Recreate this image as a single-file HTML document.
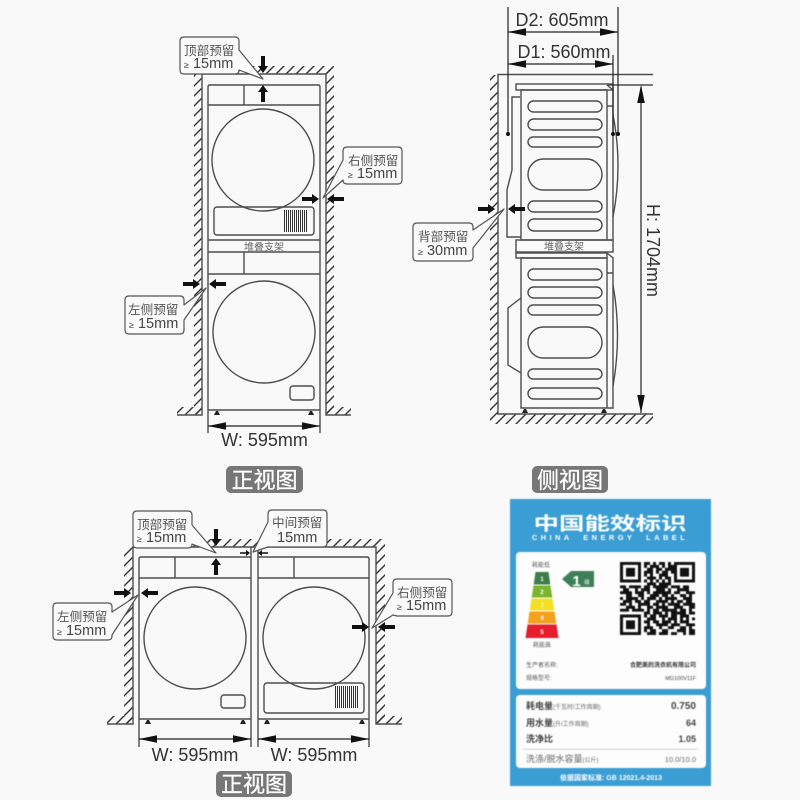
<!DOCTYPE html>
<html lang="zh">
<head>
<meta charset="utf-8">
<title>Installation diagram</title>
<style>
html,body{margin:0;padding:0;background:#f9f9f9}
svg{display:block}
text{font-family:"Liberation Sans","Noto Sans CJK SC",sans-serif;fill:#444}
.l{fill:none;stroke:#4d4d4d;stroke-width:1.4}
.k{fill:none;stroke:#222;stroke-width:1.2}
.c{fill:#fafafa;stroke:#555;stroke-width:1.2;stroke-linejoin:round}
.t{font-size:12.6px;fill:#555}
.m{font-size:14.500px;fill:#444}
.w{font-size:18px;fill:#333;text-anchor:middle}
.s{font-size:10px;fill:#666;text-anchor:middle}
.v{font-size:22px;fill:#fff;text-anchor:middle;stroke:#fff;stroke-width:.3}
.b{fill:#777}
.d{font-size:6px;fill:#555}
.r{text-anchor:end}
.e{font-size:9px;font-weight:bold;fill:#444}
.f{font-size:6px;fill:#666}
.g{font-size:10px;font-weight:bold;fill:#444;text-anchor:end}
.soft{filter:blur(.35px)}
.softer{filter:blur(.5px)}
</style>
</head>
<body>
<svg xmlns="http://www.w3.org/2000/svg" width="800" height="800" viewBox="0 0 800 800">
<defs>
<pattern id="h" patternUnits="userSpaceOnUse" width="10" height="10">
<path d="M-1 11L11 -1M-1 1L1 -1M9 11L11 9" stroke="#333" stroke-width="1.4"/>
</pattern>
<path id="a" d="M0 -2H10V-5L17 0L10 5V2H0Z" fill="#111"/>
<path id="sa" d="M0 -.8H6V-3L10 0L6 3V.8H0Z" fill="#111"/>
<path id="da" d="M0 0L18 -3.8V3.8Z" fill="#111"/>
<g id="foot"><path d="M-3 4L-1 0H1L3 4Z" fill="#222"/></g>
<g id="grille"><path d="M.5 0V22M2.500 0V22M4.500 0V22M6.500 0V22M8.500 0V22M10.500 0V22M12.500 0V22M14.500 0V22M16.500 0V22M18.500 0V22M20.500 0V22M22.500 0V22" stroke="#333" stroke-width="1"/></g>
</defs>

<rect width="800" height="800" fill="#f9f9f9"/>

<g class="soft">
<!-- PANEL 1: front view -->
<rect x="194" y="74" width="8" height="341" fill="url(#h)"/>
<rect x="326" y="70" width="8" height="345" fill="url(#h)"/>
<rect x="202" y="66" width="132" height="8" fill="url(#h)"/>
<rect x="177" y="407" width="25" height="8" fill="url(#h)"/>
<rect x="326" y="407" width="25" height="8" fill="url(#h)"/>
<path class="l" d="M177 415H202V74H326V415H351"/>
<path class="l" d="M208 433V87Q208 85 210 85H318Q320 85 320 87V433"/>
<path class="l" d="M208 105H320M244 85V105M208 240H320M208 252H320M208 274H320M244 252V274M208 410H320"/>
<circle class="l" cx="263" cy="160" r="51"/>
<rect class="l" x="214" y="207" width="100" height="28" rx="3"/>
<use href="#grille" x="284" y="210"/>
<text class="s" x="264" y="250.500">堆叠支架</text>
<circle class="l" cx="264" cy="332" r="51"/>
<rect class="l" x="290" y="386" width="24" height="14" rx="3"/>
<use href="#foot" x="217" y="411"/><use href="#foot" x="311" y="411"/>
<path class="k" d="M208 426H320"/>
<use href="#da" x="208" y="426"/>
<use href="#da" transform="translate(320 426) rotate(180)"/>
<text class="w" x="264.500" y="446">W: 595mm</text>
<rect class="b" x="226" y="466" width="77" height="27" rx="5"/>
<text class="v" x="264.500" y="488">正视图</text>

<use href="#a" transform="translate(263 56) rotate(90)"/>
<use href="#a" transform="translate(263 102) rotate(-90)"/>
<use href="#a" transform="translate(302 199)"/>
<use href="#a" transform="translate(344 199) rotate(180)"/>
<use href="#a" transform="translate(183 284)"/>
<use href="#a" transform="translate(226 284) rotate(180)"/>

<path class="c" d="M184 37H235Q239 37 239 41V50L263 79L239 70Q239 74 235 74H184Q180 74 180 70V41Q180 37 184 37Z"/>
<text class="t" x="184" y="55">顶部预留</text>
<text class="m" x="184" y="68"><tspan font-size="9">≥</tspan> 15mm</text>
<path class="c" d="M347 147H398Q402 147 402 151V180Q402 184 398 184H347Q343 184 343 180L323 198L343 160V151Q343 147 347 147Z"/>
<text class="t" x="348" y="165">右侧预留</text>
<text class="m" x="348" y="178"><tspan font-size="9">≥</tspan> 15mm</text>
<path class="c" d="M129 296H180Q184 296 184 300V305L206 288L184 320V330Q184 334 180 334H129Q125 334 125 330V300Q125 296 129 296Z"/>
<text class="t" x="128" y="314">左侧预留</text>
<text class="m" x="129" y="328"><tspan font-size="9">≥</tspan> 15mm</text>

<!-- PANEL 2: side view -->
<rect x="490" y="75" width="8" height="339" fill="url(#h)"/>
<rect x="490" y="414" width="163" height="10" fill="url(#h)"/>
<path class="l" d="M653 74.500H498V414H653"/>
<path class="l" d="M607 85H653"/>
<rect class="l" x="516" y="84" width="97" height="6"/>
<path class="l" d="M521 90H607V240H521ZM607 85L613 90V240H607M607 106H613"/>
<path class="l" d="M512 97H520M520 97H512V170L507 190V237H521"/>
<path class="l" d="M613 115Q623 165 613 217"/>
<rect class="l" x="528" y="101" width="74" height="11" rx="5.500"/>
<rect class="l" x="528" y="119" width="74" height="11" rx="5.500"/>
<rect class="l" x="528" y="137" width="74" height="10" rx="5"/>
<rect class="l" x="528" y="159" width="74" height="31" rx="15.500"/>
<rect class="l" x="528" y="201" width="74" height="11" rx="5.500"/>
<rect class="l" x="528" y="219" width="74" height="12" rx="6"/>
<rect class="l" x="516" y="240" width="97" height="12"/>
<text class="s" x="564" y="250">堆叠支架</text>
<rect class="l" x="516" y="253" width="91" height="5"/>
<path class="l" d="M521 258H607V408H521ZM607 253L613 258V408H607M607 273H613"/>
<path class="l" d="M613 285Q622 335 613 386"/>
<path class="l" d="M521 298L508 308V365L521 373"/>
<rect class="l" x="528" y="269" width="74" height="11" rx="5.500"/>
<rect class="l" x="528" y="287" width="74" height="11" rx="5.500"/>
<rect class="l" x="528" y="305" width="74" height="10" rx="5"/>
<rect class="l" x="528" y="327" width="74" height="31" rx="15.500"/>
<rect class="l" x="528" y="369" width="74" height="10" rx="5"/>
<rect class="l" x="528" y="388" width="74" height="11" rx="5.500"/>
<use href="#foot" x="525" y="409"/><use href="#foot" x="604" y="409"/>

<path class="k" d="M508 7V134M618 7V134M613 55V134M508 32H618M508 64H613"/>
<circle cx="508" cy="134" r="2" fill="#111"/><circle cx="613" cy="134" r="2" fill="#111"/><circle cx="618" cy="134" r="2" fill="#111"/>
<use href="#da" x="508" y="32"/><use href="#da" transform="translate(618 32) rotate(180)"/>
<use href="#da" x="508" y="64"/><use href="#da" transform="translate(613 64) rotate(180)"/>
<text class="w" x="562" y="26">D2: 605mm</text>
<text class="w" x="564" y="58">D1: 560mm</text>
<path class="k" d="M641 87V413"/>
<use href="#da" transform="translate(641 85) rotate(90)"/>
<use href="#da" transform="translate(641 413) rotate(-90)"/>
<text class="w" style="text-anchor:start" transform="translate(647 204) rotate(90)">H: 1704mm</text>

<use href="#a" transform="translate(478 209)"/>
<use href="#a" transform="translate(525 209) rotate(180)"/>
<path class="c" d="M417 223H469Q473 223 473 227V230L504 209L473 248V257Q473 261 469 261H417Q413 261 413 257V227Q413 223 417 223Z"/>
<text class="t" x="418" y="241">背部预留</text>
<text class="m" x="418" y="255"><tspan font-size="9">≥</tspan> 30mm</text>
<rect class="b" x="532" y="466" width="76" height="27" rx="5"/>
<text class="v" x="570" y="488">侧视图</text>

<!-- PANEL 3: two machines front -->
<rect x="124" y="547" width="9" height="177" fill="url(#h)"/>
<rect x="376" y="543" width="9" height="181" fill="url(#h)"/>
<rect x="133" y="539" width="252" height="8" fill="url(#h)"/>
<rect x="107" y="716" width="26" height="8" fill="url(#h)"/>
<rect x="376" y="716" width="26" height="8" fill="url(#h)"/>
<path class="l" d="M107 724H133V547H376V724H402"/>
<path class="l" d="M251 547V747M258 547V747"/>
<path class="l" d="M139 747V559Q139 557 141 557H251M139 578H251M175 557V578M139 719H251"/>
<path class="l" d="M369 747V559Q369 557 367 557H258M258 578H369M294 557V578M258 719H369"/>
<circle class="l" cx="195" cy="638" r="51"/>
<circle class="l" cx="314" cy="638" r="51"/>
<rect class="l" x="221" y="695" width="24" height="13" rx="3"/>
<rect class="l" x="264" y="683" width="100" height="30" rx="3"/>
<use href="#grille" x="335" y="686"/>
<use href="#foot" x="148" y="720"/><use href="#foot" x="243" y="720"/>
<use href="#foot" x="267" y="720"/><use href="#foot" x="362" y="720"/>
<path class="k" d="M139 739H251M258 739H369"/>
<use href="#da" x="139" y="739"/><use href="#da" transform="translate(251 739) rotate(180)"/>
<use href="#da" x="258" y="739"/><use href="#da" transform="translate(369 739) rotate(180)"/>
<text class="w" x="195" y="761">W: 595mm</text>
<text class="w" x="314" y="761">W: 595mm</text>
<rect class="b" x="216" y="771" width="76" height="26" rx="5"/>
<text class="v" x="254" y="792">正视图</text>

<use href="#a" transform="translate(216 529) rotate(90)"/>
<use href="#a" transform="translate(216 575) rotate(-90)"/>
<use href="#a" transform="translate(114 593)"/>
<use href="#a" transform="translate(158 593) rotate(180)"/>
<use href="#sa" transform="translate(240 553)"/>
<use href="#sa" transform="translate(268 553) rotate(180)"/>
<use href="#a" transform="translate(352 627)"/>
<use href="#a" transform="translate(395 627) rotate(180)"/>

<path class="c" d="M137 511H188Q192 511 192 515V525L216 553L192 544Q192 548 188 548H137Q133 548 133 544V515Q133 511 137 511Z"/>
<text class="t" x="137" y="529">顶部预留</text>
<text class="m" x="137" y="542"><tspan font-size="9">≥</tspan> 15mm</text>
<path class="c" d="M57 603H108Q112 603 112 607V612L138 595L112 635V636Q112 640 108 640H57Q53 640 53 636V607Q53 603 57 603Z"/>
<text class="t" x="57" y="621">左侧预留</text>
<text class="m" x="57" y="635"><tspan font-size="9">≥</tspan> 15mm</text>
<path class="c" d="M272 510H323Q327 510 327 514V543Q327 547 323 547H268L253 552L268 522V514Q268 510 272 510Z"/>
<text class="t" x="272" y="527">中间预留</text>
<text class="m" x="277" y="542">15mm</text>
<path class="c" d="M397 579H448Q452 579 452 583V612Q452 616 448 616H397L393 615L372 628L393 593V583Q393 579 397 579Z"/>
<text class="t" x="397" y="597">右侧预留</text>
<text class="m" x="397" y="610"><tspan font-size="9">≥</tspan> 15mm</text>
</g>

<!-- ENERGY LABEL -->
<g class="softer">
<rect x="510" y="499" width="201" height="287" fill="#3a9dd3"/>
<rect x="516" y="552" width="190" height="137" rx="4" fill="#fdfdfd"/>
<rect x="516" y="695" width="190" height="73" rx="4" fill="#fdfdfd"/>
<text transform="translate(610 530) scale(1 .72)" text-anchor="middle" style="font-size:25.500px;font-weight:bold;fill:#fff">中国能效标识</text>
<text x="610" y="540" text-anchor="middle" style="font-size:7.500px;font-weight:bold;fill:#fff;letter-spacing:3.400px" xml:space="preserve">CHINA  ENERGY  LABEL</text>
<text class="d" x="541" y="567" text-anchor="middle">耗能低</text>
<polygon points="535.500,572 548.500,572 550.300,584.500 533.700,584.500" fill="#3c7d48"/>
<polygon points="533.500,585.500 550.500,585.500 552.300,597.500 531.700,597.500" fill="#7ab52e"/>
<polygon points="531.500,598.500 552.500,598.500 554.300,610.500 529.700,610.500" fill="#f3e024"/>
<polygon points="529.500,611.500 554.500,611.500 556.300,623.500 527.700,623.500" fill="#f4a11f"/>
<polygon points="527.500,624.500 556.500,624.500 558.500,638 525.500,638" fill="#e51d2c"/>
<g text-anchor="middle">
<text x="542" y="581" style="font-size:6px;font-weight:bold;fill:#fff">1</text>
<text x="542" y="594" style="font-size:6px;font-weight:bold;fill:#fff">2</text>
<text x="542" y="607" style="font-size:6px;font-weight:bold;fill:#f9f3a0">3</text>
<text x="542" y="620" style="font-size:6px;font-weight:bold;fill:#fff">4</text>
<text x="542" y="634" style="font-size:6px;font-weight:bold;fill:#fff">5</text>
</g>
<text class="d" x="542" y="647" text-anchor="middle">耗能高</text>
<polygon points="562,579 571,571 594,571 594,587 571,587" fill="#3f7f58"/>
<text x="576.500" y="586" text-anchor="middle" style="font-size:15px;font-weight:bold;fill:#fff">1</text>
<text x="587" y="584" text-anchor="middle" style="font-size:5.500px;fill:#fff">级</text>

<g transform="translate(620 562) scale(3 2.92)">
<path fill="#111" fill-rule="evenodd" d="M0 0H7V7H0ZM1 1V6H6V1ZM2 2H5V5H2ZM18 0H25V7H18ZM19 1V6H24V1ZM20 2H23V5H20ZM0 18H7V25H0ZM1 19V24H6V19ZM2 20H5V23H2Z"/>
<path stroke="#111" stroke-width="1" fill="none" d="M8 .5h2M11 .5h1M13 .5h2M16 .5h1M8 1.500h1M10 1.500h3M14 1.500h1M16 1.500h2M9 2.500h2M12 2.500h2M15 2.500h3M8 3.500h3M12 3.500h1M14 3.500h2M17 3.500h1M8 4.500h1M10 4.500h1M13 4.500h3M9 5.500h3M13 5.500h1M15 5.500h2M8 6.500h1M10 6.500h1M12 6.500h1M14 6.500h1M16 6.500h1M9 7.500h3M13 7.500h4M0 8.500h2M3 8.500h4M8 8.500h2M11 8.500h5M17 8.500h3M21 8.500h2M1 9.500h2M5 9.500h1M7 9.500h3M12 9.500h3M16 9.500h1M19 9.500h4M0 10.500h4M5 10.500h3M9 10.500h1M11 10.500h6M18 10.500h2M22 10.500h3M2 11.500h2M6 11.500h2M10 11.500h3M14 11.500h2M17 11.500h1M20 11.500h2M23 11.500h1M0 12.500h1M2 12.500h4M7 12.500h1M9 12.500h3M13 12.500h1M15 12.500h4M21 12.500h3M1 13.500h3M5 13.500h2M8 13.500h2M12 13.500h4M17 13.500h1M19 13.500h2M22 13.500h2M0 14.500h2M3 14.500h1M6 14.500h4M11 14.500h2M14 14.500h1M16 14.500h4M21 14.500h4M2 15.500h3M6 15.500h1M9 15.500h2M12 15.500h4M18 15.500h3M23 15.500h2M0 16.500h3M4 16.500h4M9 16.500h1M11 16.500h2M14 16.500h5M20 16.500h2M23 16.500h1M8 17.500h2M11 17.500h3M15 17.500h1M17 17.500h5M23 17.500h2M8 18.500h1M10 18.500h2M13 18.500h3M17 18.500h2M20 18.500h3M9 19.500h3M14 19.500h1M16 19.500h3M20 19.500h1M22 19.500h1M24 19.500h1M8 20.500h2M11 20.500h2M14 20.500h3M18 20.500h1M20 20.500h3M9 21.500h1M12 21.500h4M17 21.500h3M22 21.500h3M8 22.500h3M13 22.500h1M16 22.500h2M20 22.500h2M23 22.500h1M8 23.500h1M10 23.500h2M14 23.500h2M19 23.500h3M23 23.500h2M9 24.500h3M13 24.500h3M17 24.500h2M21 24.500h1M23 24.500h2"/>
</g>

<text class="d" x="526" y="667">生产者名称:</text>
<text class="d r" x="696" y="667" style="font-weight:bold;fill:#333">合肥美的洗衣机有限公司</text>
<text class="d" x="526" y="680">规格型号:</text>
<text class="d r" x="696" y="680" style="font-size:5.500px;fill:#444">MG100V11F</text>

<text class="e" x="526" y="709">耗电量<tspan class="f" style="font-weight:normal">(千瓦时/工作周期)</tspan></text>
<text class="g" x="696" y="709">0.750</text>
<text class="e" x="526" y="726">用水量<tspan class="f" style="font-weight:normal">(升/工作周期)</tspan></text>
<text class="g" x="696" y="726" style="font-size:9px">64</text>
<text class="e" x="526" y="742">洗净比</text>
<text class="g" x="696" y="742" style="font-size:9px">1.05</text>
<rect x="523" y="748.500" width="175" height="1.500" fill="#ddd"/>
<text class="e" x="526" y="762" style="font-weight:normal;fill:#666">洗涤/脱水容量<tspan class="f">(公斤)</tspan></text>
<text x="696" y="762" text-anchor="end" style="font-size:7.500px;fill:#666">10.0/10.0</text>
<text x="611" y="780" text-anchor="middle" style="font-size:7px;font-weight:bold;fill:#fff">依据国家标准: GB 12021.4-2013</text>
</g>
</svg>
</body>
</html>
